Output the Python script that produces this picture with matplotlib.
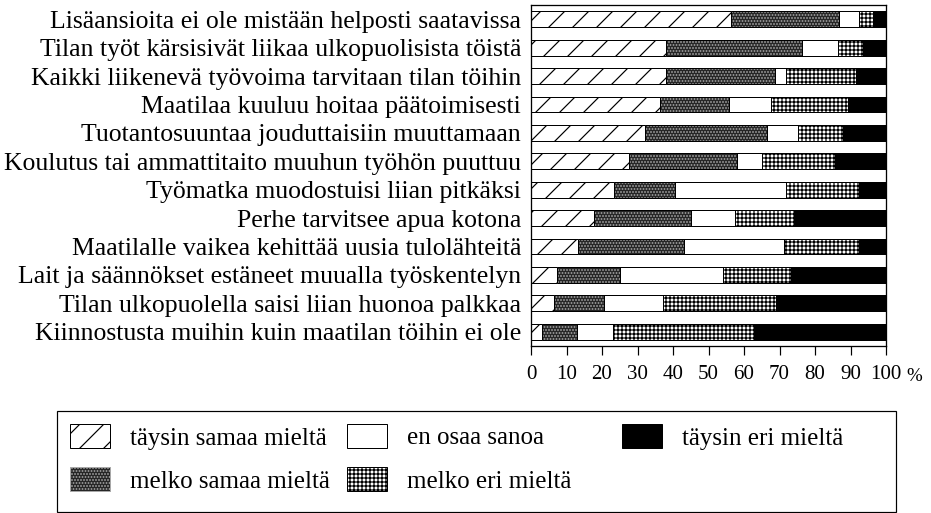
import numpy as np
import matplotlib
matplotlib.use("Agg")
import matplotlib.pyplot as plt
from matplotlib.patches import Rectangle

# statements, top to bottom as in the chart
statements = [
    "Lisäansioita ei ole mistään helposti saatavissa",
    "Tilan työt kärsisivät liikaa ulkopuolisista töistä",
    "Kaikki liikenevä työvoima tarvitaan tilan töihin",
    "Maatilaa kuuluu hoitaa päätoimisesti",
    "Tuotantosuuntaa jouduttaisiin muuttamaan",
    "Koulutus tai ammattitaito muuhun työhön puuttuu",
    "Työmatka muodostuisi liian pitkäksi",
    "Perhe tarvitsee apua kotona",
    "Maatilalle vaikea kehittää uusia tulolähteitä",
    "Lait ja säännökset estäneet muualla työskentelyn",
    "Tilan ulkopuolella saisi liian huonoa palkkaa",
    "Kiinnostusta muihin kuin maatilan töihin ei ole",
]

# shares in %, one list per answer class
taysin_samaa = [56.4, 38.1, 38.1, 36.3, 32.0, 27.6, 23.4, 17.8, 13.3, 7.4, 6.6, 3.2]
melko_samaa  = [30.5, 38.2, 30.7, 19.4, 34.5, 30.4, 17.3, 27.2, 29.7, 17.6, 14.0, 9.8]
en_osaa      = [5.4, 10.3, 3.1, 11.8, 8.8, 7.0, 31.2, 12.4, 28.4, 29.1, 16.6, 10.1]
melko_eri    = [3.9, 6.8, 19.7, 21.7, 12.7, 20.5, 20.4, 16.6, 21.1, 19.2, 31.9, 39.6]
taysin_eri   = [3.8, 6.6, 8.4, 10.8, 12.0, 14.5, 7.7, 26.0, 7.5, 26.7, 30.9, 37.3]

series = [
    ("täysin samaa mieltä", taysin_samaa),
    ("melko samaa mieltä", melko_samaa),
    ("en osaa sanoa", en_osaa),
    ("melko eri mieltä", melko_eri),
    ("täysin eri mieltä", taysin_eri),
]
# face, hatch (and hatch colour = edge colour)
styles = {
    "täysin samaa mieltä": dict(facecolor="white", edgecolor="black", hatch="/"),
    "melko samaa mieltä": dict(facecolor="#262626", edgecolor="#a8a8a8", hatch="...."),
    "en osaa sanoa": dict(facecolor="white", edgecolor="black", hatch=None),
    "melko eri mieltä": dict(facecolor="white", edgecolor="black", hatch="+++"),
    "täysin eri mieltä": dict(facecolor="black", edgecolor="black", hatch=None),
}

ticks = [0, 10, 20, 30, 40, 50, 60, 70, 80, 90, 100]

plt.rcParams["font.family"] = ["Liberation Serif", "DejaVu Serif"]
plt.rcParams["hatch.linewidth"] = 1.2

DPI = 72  # 1 pt == 1 px
fig = plt.figure(figsize=(931 / DPI, 513 / DPI), dpi=DPI)
ax = fig.add_axes([531 / 931, 1 - 346 / 513, 355 / 931, 341 / 513])

y = np.arange(len(statements))
left = np.zeros(len(statements))
containers = []
for name, vals in series:
    vals = np.array(vals)
    st = styles[name]
    bc = ax.barh(y, vals, left=left, height=0.56, linewidth=1.0, label=name, **st)
    # black outline on top (keeps hatch colour separate from the border)
    ax.barh(y, vals, left=left, height=0.56, fill=False, edgecolor="black", linewidth=1.0)
    containers.append(bc)
    left += vals

ax.set_xlim(0, 100)
ax.set_ylim(len(statements) - 0.5, -0.5)
ax.set_yticks(y)
ax.set_yticklabels(statements, fontsize=25.8)
ax.tick_params(axis="y", length=0, pad=10)
ax.set_xticks(ticks)
ax.set_xticklabels([str(t) for t in ticks], fontsize=21)
ax.tick_params(axis="x", direction="out", length=9, width=1.2, pad=10)
for s in ax.spines.values():
    s.set_linewidth(1.3)
ax.annotate("%", xy=(1, 0), xycoords="axes fraction", xytext=(20, -22),
            textcoords="offset points", fontsize=19, va="top", ha="left")

# legend: three columns placed separately, one shared frame
cols = [([0, 1], 70), ([2, 3], 347), ([4], 622)]
for idx, x0 in cols:
    fig.legend([containers[i] for i in idx], [series[i][0] for i in idx],
               loc="upper left", bbox_to_anchor=(x0 / 931, 1 - 424 / 513),
               fontsize=25, frameon=False, handlelength=1.6, handleheight=1.1,
               handletextpad=0.8, labelspacing=0.7, borderpad=0, borderaxespad=0)
fig.patches.append(Rectangle((57 / 931, 1 - 512 / 513), (896 - 57) / 931, (512 - 411) / 513,
                             transform=fig.transFigure, fill=False,
                             edgecolor="black", linewidth=1.2))

fig.savefig("out.png", dpi=DPI)
